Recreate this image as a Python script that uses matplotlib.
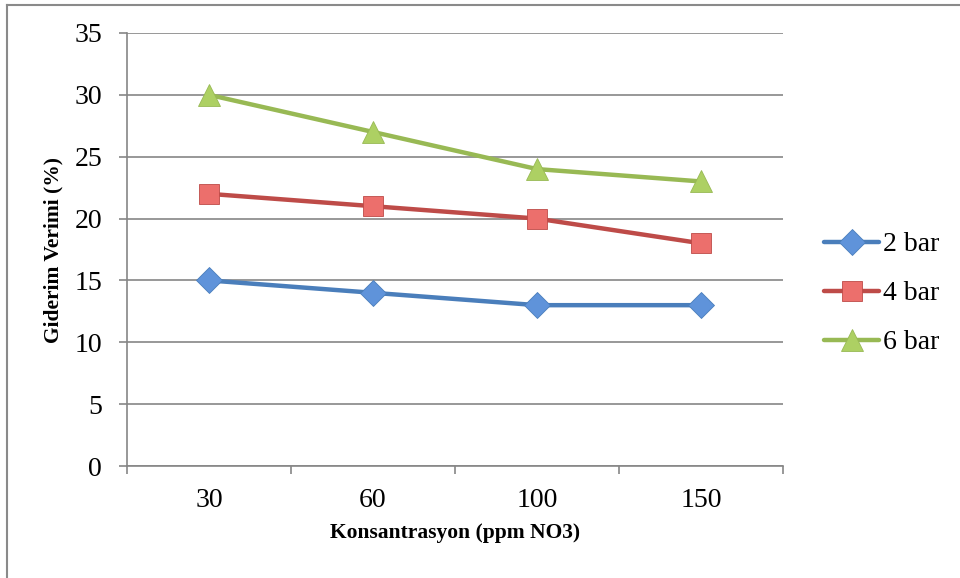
import matplotlib.pyplot as plt
from matplotlib.lines import Line2D

# Data
concentrations = ["30", "60", "100", "150"]
bar2 = [15, 14, 13, 13]
bar4 = [22, 21, 20, 18]
bar6 = [30, 27, 24, 23]
series_labels = ["2 bar", "4 bar", "6 bar"]

plt.rcParams["font.family"] = ["Liberation Serif", "DejaVu Serif"]

fig = plt.figure(figsize=(9.6, 5.78), dpi=100)
W, H = 960, 578
ax = fig.add_axes([127 / W, 1 - 466 / H, (783 - 127) / W, (466 - 33) / H])

x = list(range(len(concentrations)))
styles = [
    (bar2, "#4A7EBB", "#5F93DA", "D", 13),
    (bar4, "#BE4B48", "#EC6F6C", "s", 14),
    (bar6, "#98B954", "#ADD063", "^", 16),
]
for (vals, lc, fc, mk, ms), lab in zip(styles, series_labels):
    ax.plot(x, vals, color=lc, linewidth=3.2, marker=mk, markersize=ms,
            markerfacecolor=fc, markeredgecolor=lc, markeredgewidth=0.6,
            label=lab, solid_capstyle="round", zorder=3)

grey = "#868686"
ax.set_xlim(-0.5, len(concentrations) - 0.5)
ax.set_ylim(0, 35)
ax.set_yticks(range(0, 36, 5))
ax.set_xticks(x)
ax.set_xticklabels(concentrations)
ax.set_xticks([i - 0.5 for i in range(len(concentrations) + 1)], minor=True)
ax.tick_params(axis="x", which="major", length=0, pad=16, labelsize=20)
ax.tick_params(axis="x", which="minor", length=6, color=grey, width=1.2)
ax.tick_params(axis="y", length=6, color=grey, width=1.2, pad=12, labelsize=20)
ax.grid(axis="y", color=grey, linewidth=1.2)
ax.set_axisbelow(True)
for side in ["top", "right"]:
    ax.spines[side].set_visible(False)
for side in ["left", "bottom"]:
    ax.spines[side].set_color(grey)
    ax.spines[side].set_linewidth(1.2)

ax.set_xlabel("Konsantrasyon (ppm NO3)", fontsize=15.5, fontweight="bold", labelpad=7)
fig.text(53 / W, 1 - 250 / H, "Giderim Verimi (%)", rotation=90, ha="center", va="center",
         fontsize=15.5, fontweight="bold")

ax.legend(loc="center left", bbox_to_anchor=(1.024, 0.398), frameon=False,
          fontsize=20, handlelength=2.0, handletextpad=0.15, labelspacing=0.85)

# Outer chart border (only top and left visible in the reference)
fig.add_artist(Line2D([7 / W, 1.0], [1 - 4.5 / H, 1 - 4.5 / H], color="#8a8a8a", linewidth=1.5))
fig.add_artist(Line2D([7 / W, 7 / W], [0, 1 - 4.5 / H], color="#8a8a8a", linewidth=1.5))

fig.savefig("out.png", dpi=100)
